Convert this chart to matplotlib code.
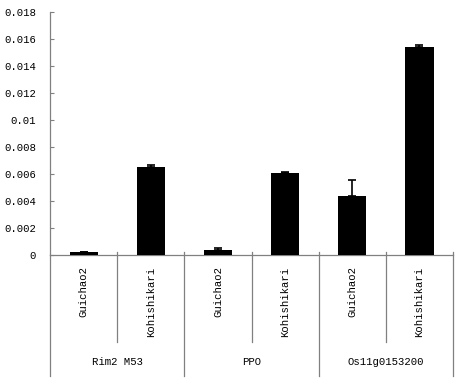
import matplotlib
matplotlib.use("Agg")
import matplotlib.pyplot as plt
import matplotlib.transforms as mtransforms
import numpy as np

genes = ["Rim2 M53", "PPO", "Os11g0153200"]
varieties = ["Guichao2", "Kohishikari"]
values = [0.00020, 0.00655, 0.00035, 0.00610, 0.00440, 0.01540]
errors = [0.00003, 0.00008, 0.00018, 0.00007, 0.00115, 0.00018]
yticks = [0, 0.002, 0.004, 0.006, 0.008, 0.01, 0.012, 0.014, 0.016, 0.018]
ytick_labels = ["0", "0.002", "0.004", "0.006", "0.008", "0.01", "0.012", "0.014", "0.016", "0.018"]

plt.rcParams['font.family'] = ['Liberation Mono', 'DejaVu Sans Mono']
fig = plt.figure(figsize=(4.59, 3.82), dpi=100)
ax = fig.add_axes([0.109, 0.3325, 0.878, 0.636])

n = len(values)
x = np.arange(n)
grey = "#808080"
ax.bar(x, values, width=0.42, color="black", zorder=3)
ax.errorbar(x, values, yerr=[np.zeros(n), errors], fmt="none", ecolor="black",
            elinewidth=1.2, capsize=3, capthick=1.2, zorder=4)

ax.set_xlim(-0.5, n - 0.5)
ax.set_ylim(0, 0.018)
ax.set_yticks(yticks)
ax.set_yticklabels(ytick_labels, fontsize=7.7)
ax.tick_params(axis="y", direction="in", length=3, color=grey, pad=10)
ax.set_xticks([])
for s in ["top", "right"]:
    ax.spines[s].set_visible(False)
for s in ["left", "bottom"]:
    ax.spines[s].set_color(grey)
    ax.spines[s].set_linewidth(0.9)

trans = mtransforms.blended_transform_factory(ax.transData, ax.transAxes)
# separators
for i in range(n + 1):
    xb = i - 0.5
    if i == 0:
        ax.plot([xb, xb], [0, -0.50], transform=trans, color=grey, lw=0.9, clip_on=False)
    elif i % 2 == 0:
        ax.plot([xb, xb], [0.012, -0.50], transform=trans, color=grey, lw=0.9, clip_on=False)
    else:
        ax.plot([xb, xb], [0.012, -0.358], transform=trans, color=grey, lw=0.9, clip_on=False)

for i in range(n):
    ax.text(i, -0.047, varieties[i % 2], transform=trans, rotation=90,
            ha="center", va="top", fontsize=7.7)
for g, name in enumerate(genes):
    ax.text(2 * g + 0.5, -0.44, name, transform=trans, ha="center", va="center", fontsize=7.7)

fig.savefig("out.png", dpi=100)
